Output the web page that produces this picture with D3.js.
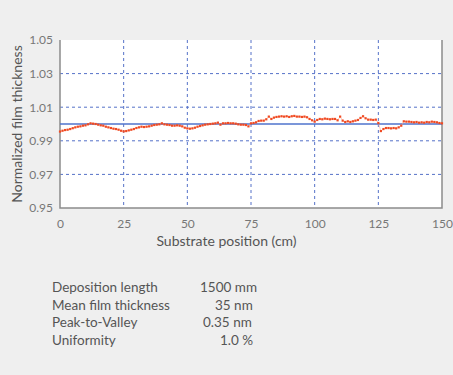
<!DOCTYPE html>
<html>
<head>
<meta charset="utf-8">
<script src="https://cdn.jsdelivr.net/npm/d3@7"></script>
<style>
  body { margin: 0; background: #efefef; }
  svg { display: block; }
  .tick text { fill: #777; }
</style>
</head>
<body>
<svg id="chart"></svg>
<script>
// measured thickness, one reading per cm of substrate
var positions = d3.range(0, 151);
var thickness = [
  0.9955, 0.9960, 0.9964, 0.9966, 0.9970, 0.9975, 0.9980, 0.9984, 0.9986, 0.9990,
  0.9992, 0.9998, 1.0004, 1.0002, 1.0000, 0.9996, 0.9992, 0.9990, 0.9984, 0.9980,
  0.9976, 0.9972, 0.9970, 0.9966, 0.9960, 0.9956, 0.9958, 0.9962, 0.9966, 0.9970,
  0.9976, 0.9980, 0.9984, 0.9982, 0.9984, 0.9986, 0.9990, 0.9994, 0.9996, 0.9998,
  1.0004, 0.9998, 0.9996, 0.9994, 0.9990, 0.9990, 0.9992, 0.9990, 0.9986, 0.9978,
  0.9974, 0.9972, 0.9974, 0.9978, 0.9984, 0.9988, 0.9992, 0.9996, 0.9998, 1.0000,
  1.0002, 1.0004, 1.0008, 0.9996, 1.0004, 1.0004, 1.0006, 1.0004, 1.0004, 1.0002,
  0.9998, 0.9996, 0.9996, 0.9994, 0.9986, 1.0004, 1.0006, 1.0010, 1.0018, 1.0020,
  1.0020, 1.0028, 1.0044, 1.0030, 1.0038, 1.0042, 1.0044, 1.0046, 1.0044, 1.0046,
  1.0042, 1.0046, 1.0048, 1.0044, 1.0044, 1.0042, 1.0044, 1.0040, 1.0030, 1.0022,
  1.0014, 1.0024, 1.0030, 1.0028, 1.0032, 1.0030, 1.0028, 1.0030, 1.0030, 1.0022,
  1.0044, 1.0020, 1.0012, 1.0016, 1.0012, 1.0016, 1.0020, 1.0024, 1.0036, 1.0046,
  1.0034, 1.0026, 1.0026, 1.0024, 1.0026, 1.0006, 0.9958, 0.9970, 0.9976, 0.9976,
  0.9974, 0.9976, 0.9974, 0.9980, 0.9990, 1.0016, 1.0014, 1.0014, 1.0012, 1.0010,
  1.0012, 1.0008, 1.0010, 1.0008, 1.0012, 1.0010, 1.0014, 1.0012, 1.0010, 1.0006,
  1.0004
];
var refX = [0, 150];
var refY = [1.0, 1.0];
var xTicks = [0, 25, 50, 75, 100, 125, 150];
var yTicks = [0.95, 0.97, 0.99, 1.01, 1.03, 1.05];
var statLabels = ["Deposition length", "Mean film thickness", "Peak-to-Valley", "Uniformity"];
var statValues = ["1500 mm", "35 nm", "0.35 nm", "1.0 %"];

var width = 453, height = 375;
var plotL = 60, plotR = 442, plotT = 40, plotB = 208;
var font = "Lato, 'Open Sans', sans-serif";

var svg = d3.select("#chart").attr("width", width).attr("height", height);

svg.append("rect").attr("width", width).attr("height", height).attr("fill", "#efefef");

var x = d3.scaleLinear().domain([0, 150]).range([plotL, plotR]);
var y = d3.scaleLinear().domain([0.95, 1.05]).range([plotB, plotT]);

// plot area
svg.append("rect")
  .attr("x", plotL).attr("y", plotT)
  .attr("width", plotR - plotL).attr("height", plotB - plotT)
  .attr("fill", "#fff");

// grid
svg.append("g").selectAll("line")
  .data(yTicks.slice(1, -1))
  .enter().append("line")
  .attr("x1", plotL).attr("x2", plotR)
  .attr("y1", d => y(d)).attr("y2", d => y(d))
  .attr("stroke", "#5571c8").attr("stroke-width", 1)
  .attr("stroke-dasharray", "3,3");

svg.append("g").selectAll("line")
  .data(xTicks.slice(1, -1))
  .enter().append("line")
  .attr("x1", d => x(d)).attr("x2", d => x(d))
  .attr("y1", plotT).attr("y2", plotB)
  .attr("stroke", "#5571c8").attr("stroke-width", 1)
  .attr("stroke-dasharray", "3,3");

// frame
svg.append("path")
  .attr("d", "M" + plotL + "," + plotT + "V" + plotB + "H" + plotR + "V" + plotT)
  .attr("fill", "none").attr("stroke", "#8c8c8c").attr("stroke-width", 1.5);

// reference line at 1.00
var refData = refX.map((v, i) => [v, refY[i]]);
svg.append("path")
  .datum(refData)
  .attr("d", d3.line().x(d => x(d[0])).y(d => y(d[1])))
  .attr("fill", "none").attr("stroke", "#4f73cc").attr("stroke-width", 1.5);

// measured series
var pts = positions.map((p, i) => [p, thickness[i]]);
svg.append("path")
  .datum(pts)
  .attr("d", d3.line().x(d => x(d[0])).y(d => y(d[1])))
  .attr("fill", "none").attr("stroke", "#f7a58c").attr("stroke-width", 0.6);

svg.append("g").selectAll("rect")
  .data(pts)
  .enter().append("rect")
  .attr("x", d => x(d[0]) - 1.1).attr("y", d => y(d[1]) - 1.1)
  .attr("width", 2.2).attr("height", 2.2)
  .attr("fill", "#f04a22");

// axes (labels only)
var xAxis = svg.append("g")
  .attr("transform", "translate(0," + plotB + ")")
  .call(d3.axisBottom(x).tickValues(xTicks).tickSize(0).tickPadding(11));
xAxis.select(".domain").remove();
xAxis.selectAll("text").style("font-family", font).style("font-size", "12px");

var yAxis = svg.append("g")
  .attr("transform", "translate(" + plotL + ",0)")
  .call(d3.axisLeft(y).tickValues(yTicks).tickFormat(d3.format(".2f")).tickSize(0).tickPadding(7));
yAxis.select(".domain").remove();
yAxis.selectAll("text").style("font-family", font).style("font-size", "12px");

// axis titles
svg.append("text")
  .attr("x", width / 2).attr("y", 246)
  .attr("text-anchor", "middle")
  .style("font-family", font).style("font-size", "14px").attr("fill", "#555")
  .text("Substrate position (cm)");

svg.append("text")
  .attr("transform", "translate(22," + (plotT + plotB) / 2 + ") rotate(-90)")
  .attr("text-anchor", "middle")
  .style("font-family", font).style("font-size", "14px").attr("fill", "#555")
  .text("Normalized film thickness");

// stats table
var rows = svg.append("g").selectAll("g")
  .data(statLabels)
  .enter().append("g")
  .attr("transform", (d, i) => "translate(0," + (292 + i * 17.5) + ")");

rows.append("text")
  .attr("x", 52)
  .style("font-family", font).style("font-size", "13.5px").attr("fill", "#555")
  .text(d => d);

rows.append("text")
  .attr("x", (d, i) => [200, 215, 203, 220][i])
  .style("font-family", font).style("font-size", "13.5px").attr("fill", "#555")
  .text((d, i) => statValues[i]);
</script>
</body>
</html>
